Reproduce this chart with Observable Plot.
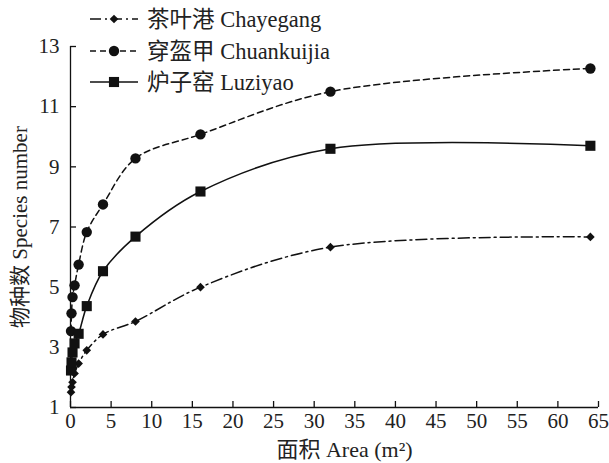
<!DOCTYPE html>
<html>
<head>
<meta charset="utf-8">
<script src="https://cdn.jsdelivr.net/npm/d3@7"></script>
<script src="https://cdn.jsdelivr.net/npm/@observablehq/plot@0.6"></script>
<style>
  body { margin: 0; background: #fff; }
  #wrap { position: relative; width: 609px; height: 463px; }
  #legend { position: absolute; left: 0; top: 0; pointer-events: none; }
</style>
</head>
<body>
<div id="wrap"></div>
<script>
// ---- data ----
const areas = [0.0625, 0.125, 0.25, 0.5, 1, 2, 4, 8, 16, 32, 64];
const chayegang = [1.51, 1.68, 1.84, 2.13, 2.46, 2.9, 3.43, 3.86, 5.0, 6.33, 6.67];
const chuankuijia = [3.54, 4.13, 4.67, 5.06, 5.75, 6.83, 7.75, 9.28, 10.08, 11.5, 12.27];
const luziyao = [2.23, 2.5, 2.83, 3.13, 3.45, 4.37, 5.53, 6.68, 8.18, 9.6, 9.7];
const seriesNames = ["茶叶港 Chayegang", "穿盔甲 Chuankuijia", "炉子窑 Luziyao"];
const xTicks = [0, 5, 10, 15, 20, 25, 30, 35, 40, 45, 50, 55, 60, 65];
const yTicks = [1, 3, 5, 7, 9, 11, 13];
const xLabel = "面积 Area (m²)";
const yLabel = "物种数 Species number";

const FONT = "'Liberation Serif', 'Times New Roman', 'Noto Sans CJK SC', serif";
const INK = "#111";
const TXT = "#222";
const FS = 21;
const W = 609, H = 463, ML = 70, MR = 11, MT = 46, MB = 56;
const PW = W - ML - MR, PH = H - MT - MB;

const styles = [
  {symbol: "diamond2", r: 3.9, dash: "11,4,2,4"},
  {symbol: "circle", r: 5.2, dash: "6,4"},
  {symbol: "square", r: 5.7, dash: null}
];
const seriesVals = [chayegang, chuankuijia, luziyao];

const marks = [
  Plot.ruleX([0], {stroke: INK, strokeWidth: 1.3}),
  Plot.ruleY([1], {stroke: INK, strokeWidth: 1.3}),
  Plot.tickY(yTicks, {y: d => d, insetRight: PW - 6, stroke: INK, strokeWidth: 1.3}),
  Plot.tickX(xTicks, {x: d => d, insetTop: PH - 6, stroke: INK, strokeWidth: 1.3}),
  Plot.axisX({ticks: xTicks, tickSize: 0, tickPadding: 6, label: null, fill: TXT}),
  Plot.axisY({ticks: yTicks, tickSize: 0, tickPadding: 11, label: null, fill: TXT}),
  Plot.text([xLabel], {text: d => d, frameAnchor: "bottom", textAnchor: "middle", lineAnchor: "middle", dy: 42, dx: 10, fontSize: 22, fill: TXT}),
  Plot.text([yLabel], {text: d => d, frameAnchor: "left", textAnchor: "middle", lineAnchor: "middle", rotate: -90, dx: -50, dy: 0, fontSize: 21, fill: TXT})
];
seriesVals.forEach((vals, i) => {
  const s = styles[i];
  marks.push(Plot.line(areas, {x: d => d, y: vals, curve: "catmull-rom", stroke: INK, strokeWidth: 1.5, strokeDasharray: s.dash}));
  marks.push(Plot.dot(areas, {x: d => d, y: vals, symbol: s.symbol, r: s.r, fill: INK, stroke: "none"}));
});

const chart = Plot.plot({
  width: W, height: H,
  marginLeft: ML, marginRight: MR, marginTop: MT, marginBottom: MB,
  x: {domain: [0, 65]},
  y: {domain: [1, 13]},
  style: {fontFamily: FONT, fontSize: FS + "px", background: "#fff", color: INK, overflow: "visible"},
  marks
});
const wrap = document.getElementById("wrap");
wrap.appendChild(chart);

// ---- legend ----
const leg = d3.select(wrap).append("svg").attr("id", "legend").attr("width", W).attr("height", 100);
const rowY = [19, 51, 82];
seriesNames.forEach((name, i) => {
  const s = styles[i];
  const g = leg.append("g").attr("transform", `translate(0,${rowY[i]})`);
  g.append("line").attr("x1", 90).attr("x2", 138).attr("y1", 0).attr("y2", 0)
    .attr("stroke", INK).attr("stroke-width", 1.5).attr("stroke-dasharray", s.dash);
  const sym = d3.symbol({circle: d3.symbolCircle, diamond2: d3.symbolDiamond2, square: d3.symbolSquare}[s.symbol], Math.PI * s.r * s.r);
  g.append("path").attr("transform", "translate(114,0)").attr("d", sym()).attr("fill", INK);
  g.append("text").attr("x", 147).attr("y", 0).attr("dy", "0.35em")
    .attr("font-family", FONT).attr("font-size", 22.5).attr("fill", TXT).text(name);
});
</script>
</body>
</html>
